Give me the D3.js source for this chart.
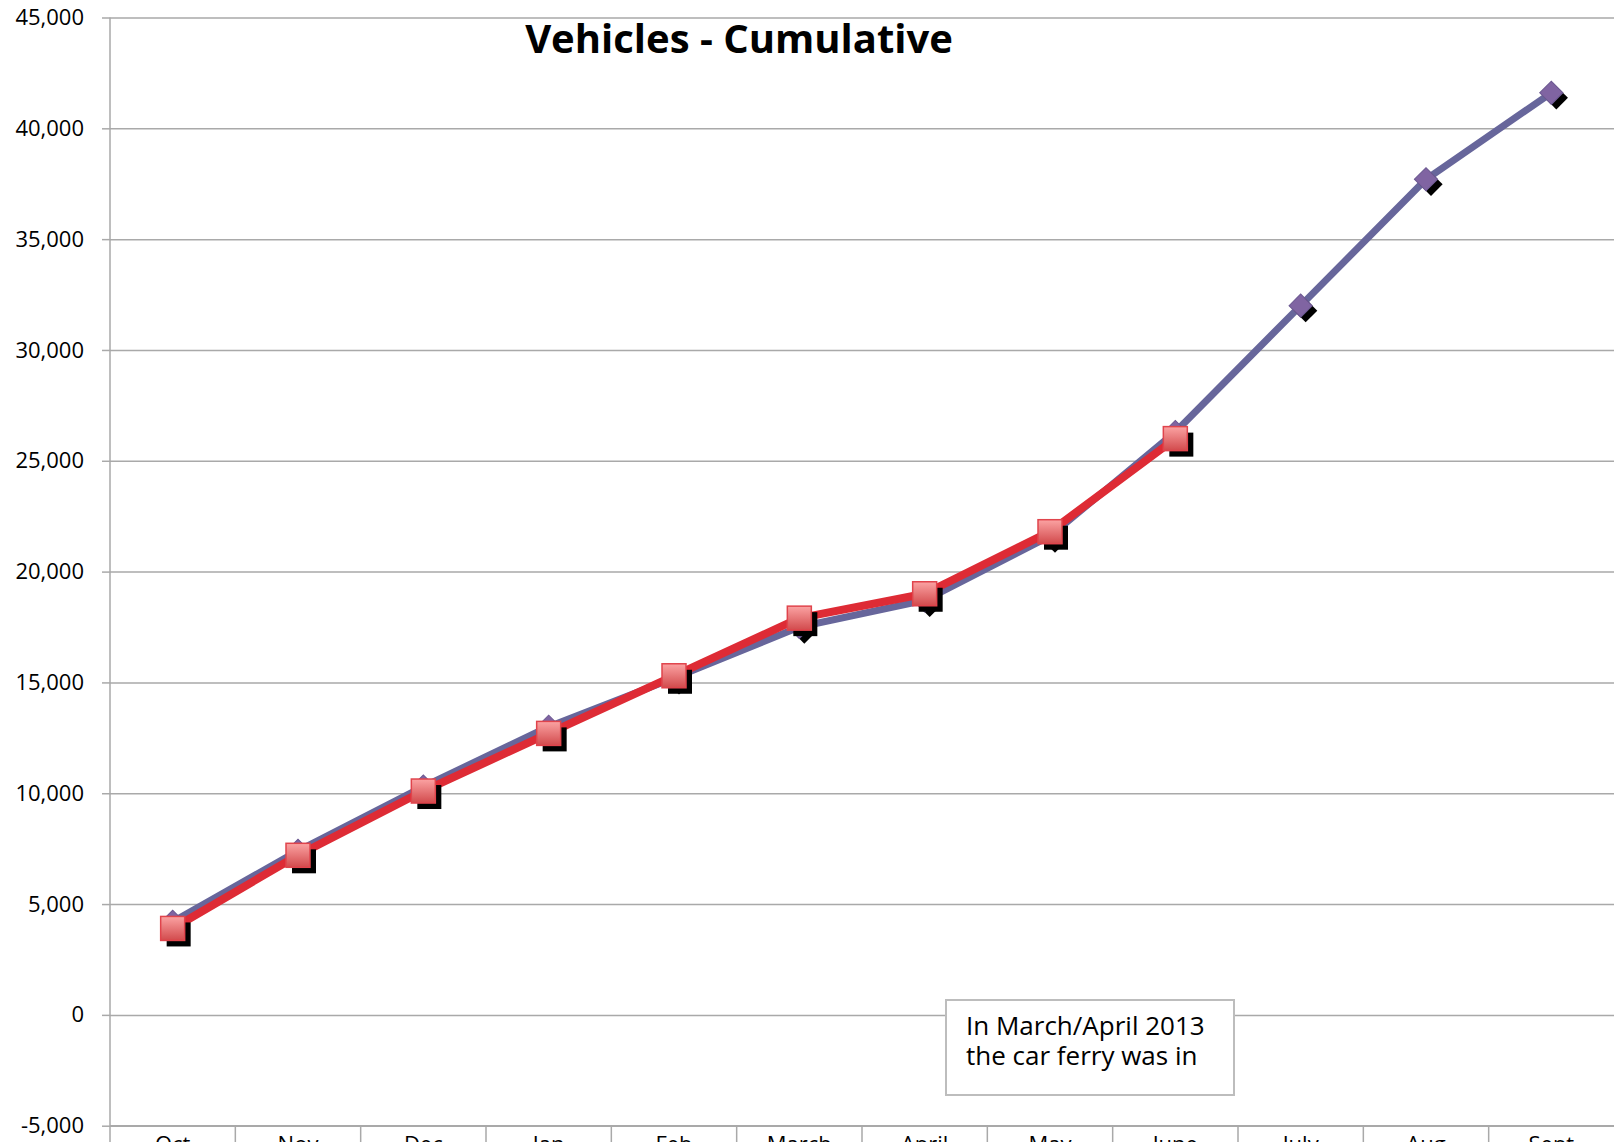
<!DOCTYPE html>
<html>
	<head>
		<title>Vehicles - Cumulative</title>
		<meta charset="utf-8" />
		<script src="https://d3js.org/d3.v7.min.js"></script>
		<style>
            body {
                margin: 0;
                background: #fff;
            }
            svg {
                display: block;
                font-family: "Open Sans", sans-serif;
            }
            .grid line {
                stroke: #a9a9a9;
                stroke-width: 1.5;
            }
            .grid path {
                display: none;
            }
            .axis path, .axis line {
                stroke: #a9a9a9;
                stroke-width: 1.5;
            }
            .axis text {
                font-family: "Open Sans", sans-serif;
                font-size: 22px;
                fill: #000;
            }
        </style>
	</head>
	<body>
        <div id="holder"></div>

        <script>
            //Data
            const months = ["Oct", "Nov", "Dec", "Jan", "Feb", "March", "April", "May", "June", "July", "Aug", "Sept"];
            const previousYear = [4200, 7400, 10300, 13000, 15200, 17500, 18700, 21600, 26300, 32000, 37700, 41600];
            const currentYear = [3900, 7200, 10100, 12700, 15300, 17900, 19000, 21800, 26000];
            const yTicks = [-5000, 0, 5000, 10000, 15000, 20000, 25000, 30000, 35000, 40000, 45000];
            const title = "Vehicles - Cumulative";
            const note = ["In March/April 2013", "the car ferry was in"];

            //Variables
            const w = 1614;
            const h = 1142;
            const plotLeft = 110;
            const plotTop = 17.5;
            const plotBottom = 1125.7;

            const svg = d3.select("#holder")
                .append("svg")
                .attr("width", w)
                .attr("height", h);

            const defs = svg.append("defs");
            const grad = defs.append("linearGradient")
                .attr("id", "redGrad")
                .attr("x1", 0).attr("y1", 0)
                .attr("x2", 0).attr("y2", 1);
            grad.append("stop").attr("offset", "0%").attr("stop-color", "#fba3a3");
            grad.append("stop").attr("offset", "100%").attr("stop-color", "#d24a4c");

            //Scales
            const xScale = d3.scaleBand()
                .domain(months)
                .range([plotLeft, w]);

            const yScale = d3.scaleLinear()
                .domain([-5000, 45000])
                .range([plotBottom, plotTop]);

            const fmt = d => d3.format(",")(d).replace("\u2212", "-");

            //Gridlines
            svg.append("g")
                .attr("class", "grid")
                .attr("transform", "translate(" + plotLeft + ",0)")
                .call(d3.axisLeft(yScale).tickValues(yTicks).tickSize(-(w - plotLeft)).tickFormat(""));

            //Y axis
            const yAxis = d3.axisLeft(yScale).tickValues(yTicks).tickSize(8).tickPadding(18).tickFormat(fmt);
            const yg = svg.append("g")
                .attr("class", "axis")
                .attr("transform", "translate(" + plotLeft + ",0)")
                .call(yAxis);
            yg.select(".domain").attr("d", "M0," + plotTop + "V" + h);

            //X axis: separators between categories, labels cut by the bottom edge
            const xg = svg.append("g")
                .attr("class", "axis")
                .attr("transform", "translate(0," + plotBottom + ")");
            xg.append("line")
                .attr("x1", plotLeft).attr("x2", w)
                .attr("y1", 0).attr("y2", 0);
            xg.selectAll(".sep")
                .data(months.slice(1))
                .enter()
                .append("line")
                .attr("class", "sep")
                .attr("x1", d => xScale(d))
                .attr("x2", d => xScale(d))
                .attr("y1", 0)
                .attr("y2", 30);
            xg.selectAll(".lbl")
                .data(months)
                .enter()
                .append("text")
                .attr("class", "lbl")
                .attr("x", d => xScale(d) + xScale.bandwidth() / 2)
                .attr("y", 26.5)
                .attr("text-anchor", "middle")
                .text(d => d);

            const cx = (d, i) => xScale(months[i]) + xScale.bandwidth() / 2;
            const line = d3.line()
                .x(cx)
                .y(d => yScale(d));

            //Purple series
            svg.append("path")
                .datum(previousYear)
                .attr("d", line)
                .attr("fill", "none")
                .attr("stroke", "#67669b")
                .attr("stroke-width", 7)
                .attr("stroke-linejoin", "round");

            const diamond = d3.symbol().type(d3.symbolSquare).size(270);
            const pm = svg.append("g");
            pm.selectAll(".pshadow")
                .data(previousYear)
                .enter()
                .append("path")
                .attr("d", diamond)
                .attr("transform", (d, i) => "translate(" + (cx(d, i) + 5) + "," + (yScale(d) + 5) + ") rotate(45)")
                .attr("fill", "#000");
            pm.selectAll(".pdot")
                .data(previousYear)
                .enter()
                .append("path")
                .attr("d", diamond)
                .attr("transform", (d, i) => "translate(" + cx(d, i) + "," + yScale(d) + ") rotate(45)")
                .attr("fill", "#8064a2")
                .attr("stroke", "#6b5891")
                .attr("stroke-width", 1);

            //Red series
            svg.append("path")
                .datum(currentYear)
                .attr("d", line)
                .attr("fill", "none")
                .attr("stroke", "#de2b35")
                .attr("stroke-width", 8)
                .attr("stroke-linejoin", "round");

            const sq = 24;
            const rm = svg.append("g");
            rm.selectAll(".rshadow")
                .data(currentYear)
                .enter()
                .append("rect")
                .attr("x", (d, i) => cx(d, i) - sq / 2 + 6)
                .attr("y", d => yScale(d) - sq / 2 + 6)
                .attr("width", sq)
                .attr("height", sq)
                .attr("fill", "#000");
            rm.selectAll(".rdot")
                .data(currentYear)
                .enter()
                .append("rect")
                .attr("x", (d, i) => cx(d, i) - sq / 2)
                .attr("y", d => yScale(d) - sq / 2)
                .attr("width", sq)
                .attr("height", sq)
                .attr("fill", "url(#redGrad)")
                .attr("stroke", "#e0444c")
                .attr("stroke-width", 1.5);

            //Title
            svg.append("text")
                .attr("x", 739)
                .attr("y", 53)
                .attr("text-anchor", "middle")
                .style("font-size", "40px")
                .style("font-weight", "bold")
                .text(title);

            //Note box
            const noteG = svg.append("g");
            noteG.append("rect")
                .attr("x", 946)
                .attr("y", 1000)
                .attr("width", 288)
                .attr("height", 95)
                .attr("fill", "#fff")
                .attr("stroke", "#bdbdbd")
                .attr("stroke-width", 2);
            noteG.selectAll("text")
                .data(note)
                .enter()
                .append("text")
                .attr("x", 966)
                .attr("y", (d, i) => 1035 + i * 30)
                .style("font-size", "26px")
                .text(d => d);
        </script>
	</body>
</html>
